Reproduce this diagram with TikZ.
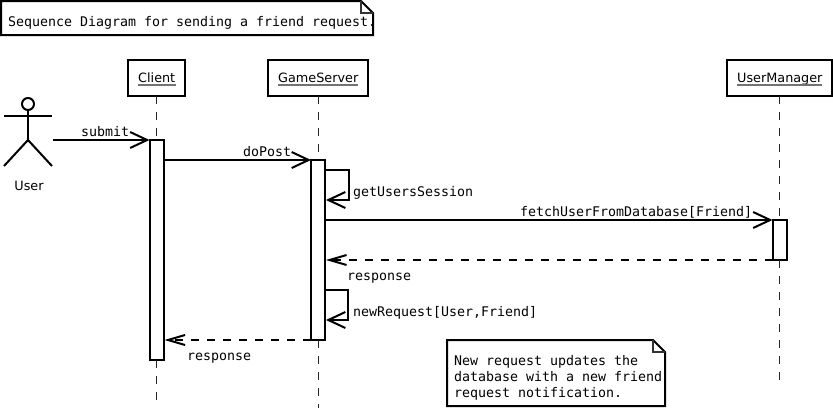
\documentclass[tikz,border=0pt]{standalone}
\usepackage{fontspec}
\setmainfont{DejaVu Sans}
\newfontfamily\monof{DejaVu Sans Mono}
\usetikzlibrary{arrows.meta,calc}
\tikzset{
  x=1pt,y=-1pt,
  thick line/.style={line width=2pt,black},
  open tip/.style={-{Straight Barb[length=17pt,width=16pt,line width=2pt]}},
  open tip small/.style={-{Straight Barb[length=17pt,width=10pt,line width=2pt]}},
  msg/.style={thick line,open tip},
  reply/.style={thick line,open tip small,dash pattern=on 8pt off 8pt},
  lifeline/.style={line width=1.4pt,black!85,dash pattern=on 8pt off 8pt},
  objbox/.style={draw,line width=2pt,fill=white,minimum height=36pt,inner sep=0pt,outer sep=0pt},
  objtext/.style={font=\fontsize{12.8}{14}\selectfont,inner sep=0pt,anchor=base west},
  actbox/.style={draw,line width=2pt,fill=white,inner sep=0pt,outer sep=0pt,minimum width=14pt},
  mono/.style={font=\monof\fontsize{13.29}{16}\selectfont,inner sep=0pt,anchor=base west},
  uline/.style={line width=1.8pt,black!55},
  sans/.style={font=\fontsize{12.8}{14}\selectfont,inner sep=0pt,anchor=base},
  notebody/.style={draw,line width=2pt,fill=white,line join=miter},
  foldline/.style={line width=1.2pt,black!80},
}
\begin{document}
\begin{tikzpicture}
\useasboundingbox (0,0) rectangle (833,408);
% lifeline ends
\coordinate (cEnd) at (156.5,400);
\coordinate (gEnd) at (318.5,408);
\coordinate (uEnd) at (779.5,380);
% objects
\node[objbox,minimum width=57pt,anchor=north west] (client) at (128,60) {};
\node[objbox,minimum width=100pt,anchor=north west] (server) at (268,60) {};
\node[objbox,minimum width=105pt,anchor=north west] (umgr) at (727,60) {};
\node[objtext] (clientT) at (138,82) {Client};
\node[objtext] (serverT) at (278,82) {GameServer};
\node[objtext] (umgrT) at (737,82) {UserManager};
\draw[uline] (138,85) -- (175.5,85);
\draw[uline] (278,85) -- (358,85);
\draw[uline] (737,85) -- (822,85);
% activations
\node[actbox,minimum height=220pt,anchor=north west] (actC) at (149.5,140) {};
\node[actbox,minimum height=180pt,anchor=north west] (actG) at (311,160) {};
\node[actbox,minimum height=40pt,anchor=north west] (actU) at (772.5,220) {};
% lifelines
\draw[lifeline] (client.south -| cEnd) -- (actC.north -| cEnd);
\draw[lifeline] (actC.south -| cEnd) -- (cEnd);
\draw[lifeline] (server.south -| gEnd) -- (actG.north -| gEnd);
\draw[lifeline] (actG.south -| gEnd) -- (gEnd);
\draw[lifeline] (umgr.south -| uEnd) -- (actU.north -| uEnd);
\draw[lifeline] (actU.south -| uEnd) -- (uEnd);
% actor
\node[draw,circle,line width=2pt,minimum size=12pt,inner sep=0pt,outer sep=0pt] (head) at (28,104) {};
\coordinate (hip) at (28,140);
\coordinate (armL) at (4,116);
\coordinate (armR) at (52,116);
\coordinate (legL) at (4,166);
\coordinate (legR) at (52,166);
\draw[thick line] (head.south) -- (hip);
\draw[thick line] (armL) -- (armR);
\draw[thick line] (legL) -- (hip) -- (legR);
\node[sans] (userlbl) at (29,190) {User};
% messages
\coordinate (start) at (53,140);
\draw[msg] (start) -- (actC.north west);
\draw[msg] (actC.east |- 0,160) -- (actG.north west);
\draw[msg] (actG.east |- 0,220) -- (actU.north west);
\draw[reply] (actU.south west) -- ($(actG.east |- 0,260)+(1,0)$);
\draw[reply] (actG.south west) -- ($(actC.east |- 0,340)+(1,0)$);
\coordinate (s1a) at (349,170);
\coordinate (s1b) at (349,200);
\draw[msg] (actG.east |- s1a) -- (s1a) -- (s1b) -- (326,200);
\coordinate (s2a) at (348,290);
\coordinate (s2b) at (348,320);
\draw[msg] (actG.east |- s2a) -- (s2a) -- (s2b) -- (326,320);
% message labels
\node[mono] (l1) at (81,136) {submit};
\node[mono] (l2) at (243,156) {doPost};
\node[mono] (l3) at (353,196.5) {getUsersSession};
\node[mono] (l4) at (520,216) {fetchUserFromDatabase[Friend]};
\node[mono] (l5) at (347,280) {response};
\node[mono] (l6) at (353,316) {newRequest[User,Friend]};
\node[mono] (l7) at (187,360) {response};
% notes
\draw[notebody] (1,1) -- (361,1) -- (373,13) -- (373,35) -- (1,35) -- cycle;
\draw[foldline] (361,1) -- (361,13) -- (373,13);
\node[mono] (n1) at (8,26) {Sequence Diagram for sending a friend request.};
\draw[notebody] (447,340) -- (653,340) -- (665,352) -- (665,406) -- (447,406) -- cycle;
\draw[foldline] (653,340) -- (653,352) -- (665,352);
\node[mono] (n2) at (454,365) {New request updates the};
\node[mono] (n3) at (454,381) {database with a new friend};
\node[mono] (n4) at (454,397) {request notification.};
\end{tikzpicture}
\end{document}
